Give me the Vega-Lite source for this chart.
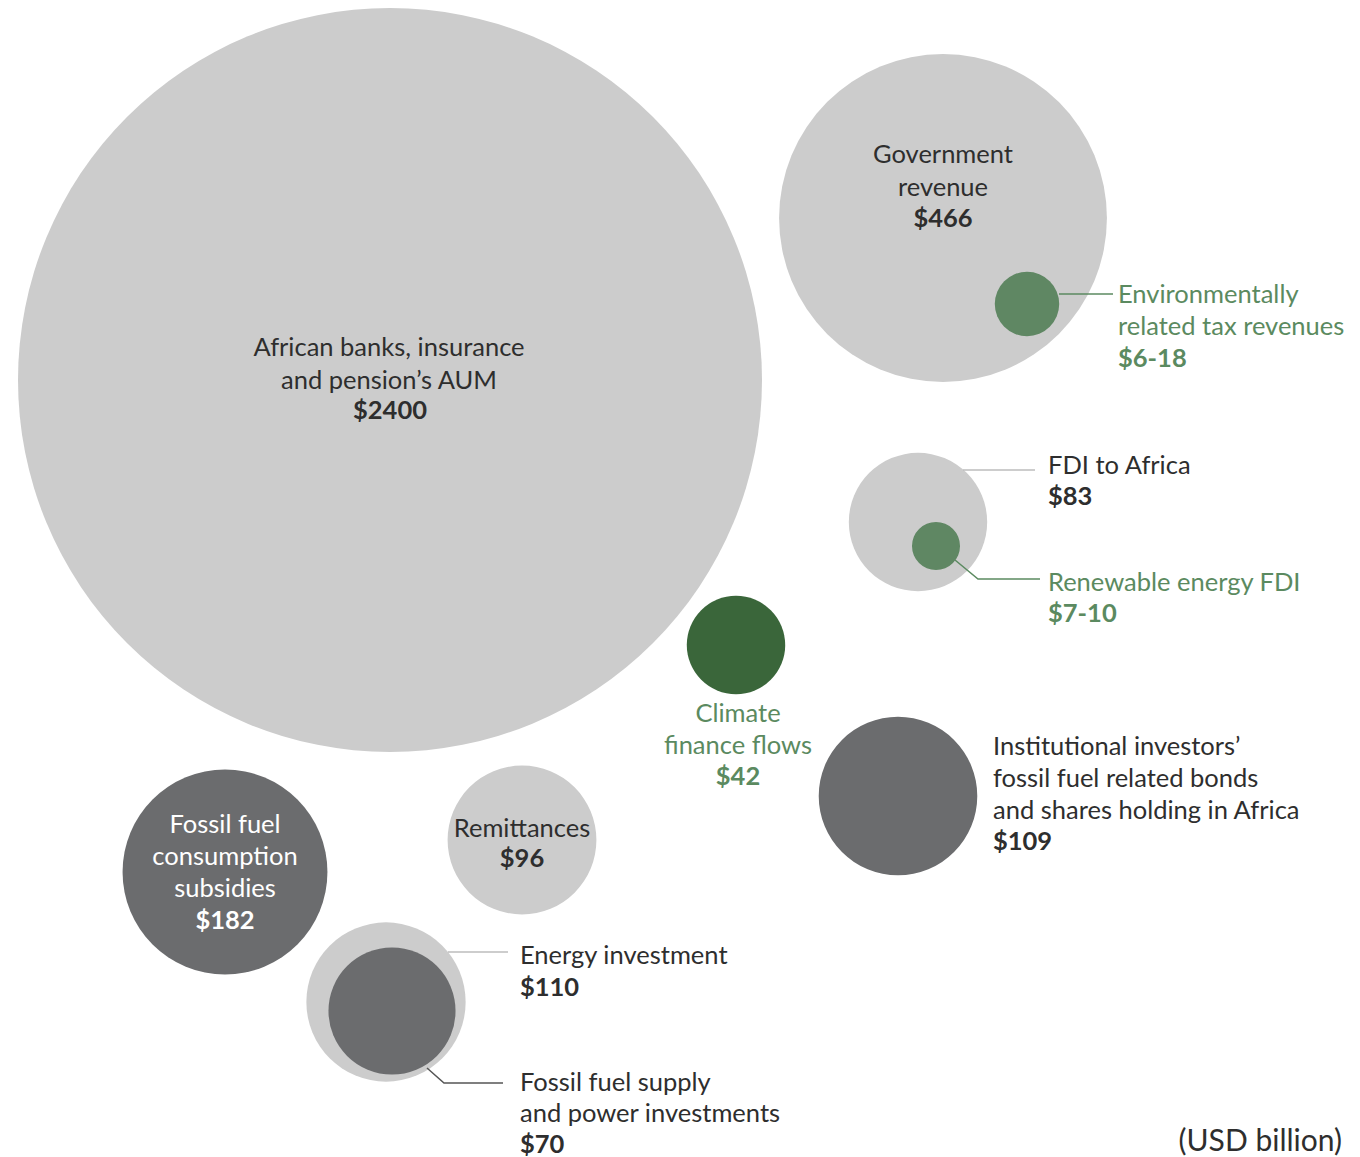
{
  "$schema": "https://vega.github.io/schema/vega-lite/v6.json",
  "width": 1360,
  "height": 1157,
  "autosize": {"type": "none"},
  "padding": 0,
  "background": "#ffffff",
  "config": {"view": {"stroke": null}, "text": {"font": "Lato"}},
  "datasets": {
    "circles": [
      {"name": "African banks, insurance and pension's AUM", "value": 2400, "cx": 390, "cy": 380, "kind": "light", "ord": 1},
      {"name": "Government revenue", "value": 466, "cx": 943, "cy": 218, "kind": "light", "ord": 2},
      {"name": "Environmentally related tax revenues", "value": 18, "cx": 1027, "cy": 304, "kind": "mid", "ord": 3},
      {"name": "FDI to Africa", "value": 83, "cx": 918, "cy": 522, "kind": "light", "ord": 4},
      {"name": "Renewable energy FDI", "value": 10, "cx": 936, "cy": 546, "kind": "mid", "ord": 5},
      {"name": "Climate finance flows", "value": 42, "cx": 736, "cy": 645, "kind": "deep", "ord": 6},
      {"name": "Institutional investors' fossil fuel related bonds and shares holding in Africa", "value": 109, "cx": 898, "cy": 796, "kind": "dark", "ord": 7},
      {"name": "Fossil fuel consumption subsidies", "value": 182, "cx": 225, "cy": 872, "kind": "dark", "ord": 8},
      {"name": "Remittances", "value": 96, "cx": 522, "cy": 840, "kind": "light", "ord": 9},
      {"name": "Energy investment", "value": 110, "cx": 386, "cy": 1002, "kind": "light", "ord": 10},
      {"name": "Fossil fuel supply and power investments", "value": 70, "cx": 392, "cy": 1011, "kind": "dark", "ord": 11}
    ],
    "leaders": [
      {"id": "env", "px": 1059, "py": 294, "seq": 1, "kind": "gline"},
      {"id": "env", "px": 1113, "py": 294, "seq": 2, "kind": "gline"},
      {"id": "fdi", "px": 963, "py": 470, "seq": 1, "kind": "lline"},
      {"id": "fdi", "px": 1035, "py": 470, "seq": 2, "kind": "lline"},
      {"id": "ren", "px": 955, "py": 560, "seq": 1, "kind": "gline"},
      {"id": "ren", "px": 978, "py": 579, "seq": 2, "kind": "gline"},
      {"id": "ren", "px": 1040, "py": 579, "seq": 3, "kind": "gline"},
      {"id": "ene", "px": 448, "py": 952, "seq": 1, "kind": "lline"},
      {"id": "ene", "px": 508, "py": 952, "seq": 2, "kind": "lline"},
      {"id": "sup", "px": 427, "py": 1068, "seq": 1, "kind": "dline"},
      {"id": "sup", "px": 444, "py": 1083, "seq": 2, "kind": "dline"},
      {"id": "sup", "px": 503, "py": 1083, "seq": 3, "kind": "dline"}
    ],
    "labels": [
      {"label": "African banks, insurance", "tx": 389, "ty": 348, "w": "n", "a": "c", "kind": "txt"},
      {"label": "and pension’s AUM", "tx": 389, "ty": 381, "w": "n", "a": "c", "kind": "txt"},
      {"label": "$2400", "tx": 390, "ty": 411, "w": "b", "a": "c", "kind": "txt"},
      {"label": "Government", "tx": 943, "ty": 155, "w": "n", "a": "c", "kind": "txt"},
      {"label": "revenue", "tx": 943, "ty": 188, "w": "n", "a": "c", "kind": "txt"},
      {"label": "$466", "tx": 943, "ty": 219, "w": "b", "a": "c", "kind": "txt"},
      {"label": "Environmentally", "tx": 1118, "ty": 295, "w": "n", "a": "l", "kind": "gtxt"},
      {"label": "related tax revenues", "tx": 1118, "ty": 327, "w": "n", "a": "l", "kind": "gtxt"},
      {"label": "$6-18", "tx": 1118, "ty": 359, "w": "b", "a": "l", "kind": "gtxt"},
      {"label": "FDI to Africa", "tx": 1048, "ty": 466, "w": "n", "a": "l", "kind": "txt"},
      {"label": "$83", "tx": 1048, "ty": 497, "w": "b", "a": "l", "kind": "txt"},
      {"label": "Renewable energy FDI", "tx": 1048, "ty": 583, "w": "n", "a": "l", "kind": "gtxt"},
      {"label": "$7-10", "tx": 1048, "ty": 614, "w": "b", "a": "l", "kind": "gtxt"},
      {"label": "Climate", "tx": 738, "ty": 714, "w": "n", "a": "c", "kind": "gtxt"},
      {"label": "finance flows", "tx": 738, "ty": 746, "w": "n", "a": "c", "kind": "gtxt"},
      {"label": "$42", "tx": 738, "ty": 777, "w": "b", "a": "c", "kind": "gtxt"},
      {"label": "Institutional investors’", "tx": 993, "ty": 747, "w": "n", "a": "l", "kind": "txt"},
      {"label": "fossil fuel related bonds", "tx": 993, "ty": 779, "w": "n", "a": "l", "kind": "txt"},
      {"label": "and shares holding in Africa", "tx": 993, "ty": 811, "w": "n", "a": "l", "kind": "txt"},
      {"label": "$109", "tx": 993, "ty": 842, "w": "b", "a": "l", "kind": "txt"},
      {"label": "Fossil fuel", "tx": 225, "ty": 825, "w": "n", "a": "c", "kind": "wtxt"},
      {"label": "consumption", "tx": 225, "ty": 857, "w": "n", "a": "c", "kind": "wtxt"},
      {"label": "subsidies", "tx": 225, "ty": 889, "w": "n", "a": "c", "kind": "wtxt"},
      {"label": "$182", "tx": 225, "ty": 921, "w": "b", "a": "c", "kind": "wtxt"},
      {"label": "Remittances", "tx": 522, "ty": 829, "w": "n", "a": "c", "kind": "txt"},
      {"label": "$96", "tx": 522, "ty": 859, "w": "b", "a": "c", "kind": "txt"},
      {"label": "Energy investment", "tx": 520, "ty": 956, "w": "n", "a": "l", "kind": "txt"},
      {"label": "$110", "tx": 520, "ty": 988, "w": "b", "a": "l", "kind": "txt"},
      {"label": "Fossil fuel supply", "tx": 520, "ty": 1083, "w": "n", "a": "l", "kind": "txt"},
      {"label": "and power investments", "tx": 520, "ty": 1114, "w": "n", "a": "l", "kind": "txt"},
      {"label": "$70", "tx": 520, "ty": 1145, "w": "b", "a": "l", "kind": "txt"},
      {"label": "(USD billion)", "tx": 1342, "ty": 1142, "w": "n", "a": "r", "kind": "txt"}
    ]
  },
  "resolve": {"scale": {"color": "shared"}},
  "layer": [
    {
      "data": {"name": "circles"},
      "mark": {"type": "circle", "opacity": 1, "strokeWidth": 0},
      "encoding": {
        "x": {"field": "cx", "type": "quantitative", "scale": {"domain": [0, 1360], "range": [0, 1360], "nice": false, "zero": false}, "axis": null},
        "y": {"field": "cy", "type": "quantitative", "scale": {"domain": [0, 1157], "range": [0, 1157], "nice": false, "zero": false}, "axis": null},
        "size": {"field": "value", "type": "quantitative", "scale": {"type": "linear", "domain": [0, 2400], "range": [0, 553536], "zero": true}, "legend": null},
        "color": {"field": "kind", "type": "nominal", "legend": null,
          "scale": {"domain": ["light", "dark", "mid", "deep", "txt", "gtxt", "wtxt", "gline", "lline", "dline"],
                    "range": ["#cccccc", "#6b6c6e", "#5f8763", "#3a663a", "#2e2e2e", "#5b8a60", "#ffffff", "#5b8a60", "#bdbdbd", "#555555"]}},
        "order": {"field": "ord", "type": "quantitative"}
      }
    },
    {
      "data": {"name": "leaders"},
      "mark": {"type": "line", "strokeWidth": 1.5, "interpolate": "linear"},
      "encoding": {
        "x": {"field": "px", "type": "quantitative"},
        "y": {"field": "py", "type": "quantitative"},
        "detail": {"field": "id", "type": "nominal"},
        "order": {"field": "seq", "type": "quantitative"},
        "color": {"field": "kind", "type": "nominal", "legend": null}
      }
    },
    {
      "data": {"name": "labels"},
      "transform": [{"filter": "datum.w == 'n' && datum.a == 'c'"}],
      "mark": {"type": "text", "align": "center", "baseline": "middle", "fontSize": 25.5},
      "encoding": {
        "x": {"field": "tx", "type": "quantitative"},
        "y": {"field": "ty", "type": "quantitative"},
        "text": {"field": "label", "type": "nominal"},
        "color": {"field": "kind", "type": "nominal", "legend": null}
      }
    },
    {
      "data": {"name": "labels"},
      "transform": [{"filter": "datum.w == 'b' && datum.a == 'c'"}],
      "mark": {"type": "text", "align": "center", "baseline": "middle", "fontSize": 25.5, "fontWeight": "bold"},
      "encoding": {
        "x": {"field": "tx", "type": "quantitative"},
        "y": {"field": "ty", "type": "quantitative"},
        "text": {"field": "label", "type": "nominal"},
        "color": {"field": "kind", "type": "nominal", "legend": null}
      }
    },
    {
      "data": {"name": "labels"},
      "transform": [{"filter": "datum.w == 'n' && datum.a == 'l'"}],
      "mark": {"type": "text", "align": "left", "baseline": "middle", "fontSize": 25.5},
      "encoding": {
        "x": {"field": "tx", "type": "quantitative"},
        "y": {"field": "ty", "type": "quantitative"},
        "text": {"field": "label", "type": "nominal"},
        "color": {"field": "kind", "type": "nominal", "legend": null}
      }
    },
    {
      "data": {"name": "labels"},
      "transform": [{"filter": "datum.w == 'b' && datum.a == 'l'"}],
      "mark": {"type": "text", "align": "left", "baseline": "middle", "fontSize": 25.5, "fontWeight": "bold"},
      "encoding": {
        "x": {"field": "tx", "type": "quantitative"},
        "y": {"field": "ty", "type": "quantitative"},
        "text": {"field": "label", "type": "nominal"},
        "color": {"field": "kind", "type": "nominal", "legend": null}
      }
    },
    {
      "data": {"name": "labels"},
      "transform": [{"filter": "datum.a == 'r'"}],
      "mark": {"type": "text", "align": "right", "baseline": "middle", "fontSize": 30},
      "encoding": {
        "x": {"field": "tx", "type": "quantitative"},
        "y": {"field": "ty", "type": "quantitative"},
        "text": {"field": "label", "type": "nominal"},
        "color": {"field": "kind", "type": "nominal", "legend": null}
      }
    }
  ]
}
